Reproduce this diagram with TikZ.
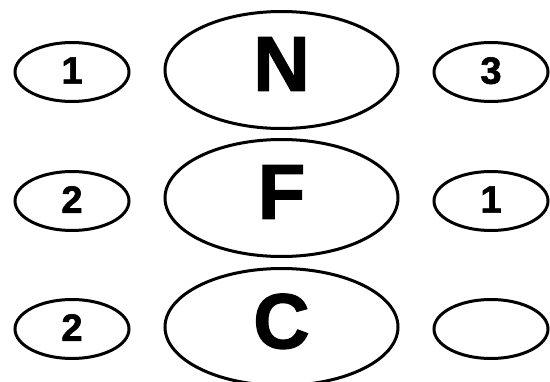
\documentclass[tikz,border=0pt]{standalone}
\usepackage{fontspec}
\setmainfont{Liberation Sans}[BoldFeatures={FakeBold=1.6}]
\usetikzlibrary{shapes.geometric}
\begin{document}
\begin{tikzpicture}[x=1pt,y=1pt,
  bigell/.style={draw=black,line width=3pt,ellipse,inner sep=0pt,
    minimum width=233pt,minimum height=117pt,
    font=\fontsize{78}{78}\selectfont\bfseries,text depth=12pt},
  smallell/.style={draw=black,line width=3pt,ellipse,inner sep=0pt,
    minimum width=114pt,minimum height=59pt,
    font=\fontsize{38}{38}\selectfont\bfseries,text depth=3pt}]
\useasboundingbox (0,0) rectangle (550,381);
\fill[white] (0,0) rectangle (550,381);
\node[bigell] (N) at (281.5,311) {N};
\node[bigell] (F) at (281.5,183) {F};
\node[bigell] (C) at (281.5,54) {C};
\node[smallell] (l1) at (72,309) {1};
\node[smallell] (l2) at (72,180) {2};
\node[smallell] (l3) at (72,52) {2};
\node[smallell] (r1) at (491,309) {3};
\node[smallell] (r2) at (491,180) {1};
\node[smallell] (r3) at (491,52) {};
\end{tikzpicture}
\end{document}
